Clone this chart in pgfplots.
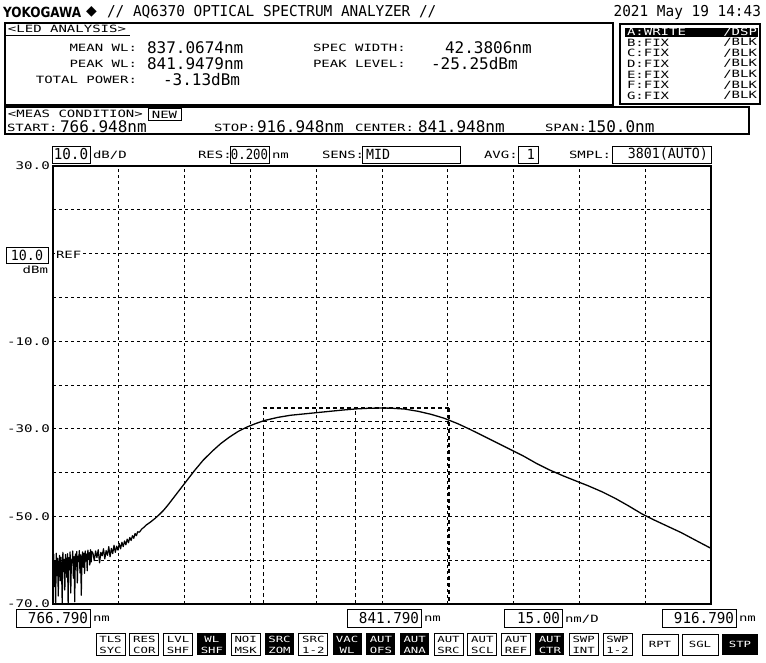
\documentclass[border=0pt]{standalone}
\usepackage{pgfplots}
\pgfplotsset{compat=1.18}
\usepackage{graphicx}
\usepackage{fontspec}
\setmainfont{DejaVu Sans Mono}
\newfontfamily\sansf{DejaVu Sans}
\newcommand\LCD[3]{\scalebox{#2}[1]{\fontsize{#1}{#1}\selectfont #3}}
\newcommand\SM[1]{\LCD{10}{1.4}{#1}}
\newcommand\BG[1]{\LCD{16}{1}{#1}}
\newcommand\BT[1]{\LCD{8.5}{1.45}{#1}}
\newcommand\btnW[3]{\draw[line width=0.8pt] (#1,633) rectangle ++(29,22);
  \node[t] at (#1+14.5,639) {\BT{#2}}; \node[t] at (#1+14.5,650) {\BT{#3}};}
\newcommand\btnB[3]{\fill (#1,633) rectangle ++(29,22);
  \node[t,white] at (#1+14.5,639) {\BT{#2}}; \node[t,white] at (#1+14.5,650) {\BT{#3}};}
\begin{document}
\begin{tikzpicture}[x=1pt,y=-1pt,t/.style={inner sep=0pt,outer sep=0pt}]
\fill[white] (0,0) rectangle (766,662);
% spectrum axis
\begin{axis}[at={(53pt,-604pt)}, anchor=south west, scale only axis,
  width=658pt, height=438pt,
  xmin=766.79, xmax=916.79, ymin=-70, ymax=30,
  xtick={781.79,796.79,811.79,826.79,841.79,856.79,871.79,886.79,901.79},
  xticklabels={},
  ytick={-70,-60,-50,-40,-30,-20,-10,0,10,20,30},
  yticklabels={\LCD{10.5}{1.35}{-70.0},,\LCD{10.5}{1.35}{-50.0},,\LCD{10.5}{1.35}{-30.0},,\LCD{10.5}{1.35}{-10.0},,,,\LCD{10.5}{1.35}{30.0}},
  grid=major, major grid style={black, line width=0.9pt, dash pattern=on 3pt off 3pt},
  tick style={draw=none}, axis line style={line width=1.7pt},
  yticklabel style={inner sep=1pt, xshift=-2pt},
  clip=true]
% noise floor
\addplot[black, line width=1.2pt, line join=round] table {
766.79 -61.5
766.94 -58.6
767.09 -66.0
767.24 -60.2
767.39 -70.0
767.54 -58.4
767.69 -63.5
767.84 -59.6
767.99 -68.2
768.14 -60.8
768.29 -58.9
768.44 -64.7
768.59 -59.3
768.74 -61.9
768.89 -70.0
769.04 -58.2
769.19 -62.6
769.34 -59.8
769.49 -66.8
769.64 -58.7
769.79 -61.0
769.94 -63.9
770.09 -58.5
770.24 -70.0
770.39 -59.4
770.54 -62.2
770.69 -58.1
770.84 -67.5
770.99 -59.9
771.14 -60.6
771.29 -57.9
771.44 -64.1
771.59 -59.2
771.74 -69.5
771.89 -58.6
772.04 -61.4
772.19 -58.0
772.34 -65.2
772.49 -59.1
772.64 -60.3
772.79 -57.8
772.94 -62.9
773.09 -58.8
773.24 -68.0
773.39 -59.5
773.54 -58.1
773.69 -61.6
773.84 -58.4
773.99 -63.0
774.14 -57.9
774.29 -60.2
774.44 -58.6
774.59 -62.4
774.74 -57.7
774.89 -59.8
775.04 -58.3
775.19 -61.1
775.34 -57.6
775.49 -60.4
775.64 -58.0
775.9 -58.4
776.2 -60.1
776.5 -57.9
776.8 -59.4
777.1 -57.6
777.4 -60.6
777.7 -58.2
778.0 -59.0
778.3 -57.4
778.6 -59.7
778.9 -57.8
779.2 -58.9
779.5 -56.9
779.8 -59.2
780.1 -57.3
780.4 -58.5
780.7 -56.6
781.0 -58.2
781.3 -56.8
781.6 -57.7
781.9 -56.2
782.2 -57.4
782.5 -55.9
782.8 -56.9
783.1 -55.6
783.4 -56.5
783.7 -55.2
784.0 -56.0
784.3 -54.8
784.6 -55.5
784.9 -54.4
785.2 -55.0
785.5 -53.9
785.8 -54.4
786.1 -53.5
786.5 -53.6
787.0 -52.9
787.5 -52.5
};
% smooth spectrum
\addplot[black, line width=1.3pt, line join=round] table {
787.5 -52.5
788.0 -52.0
789.0 -51.3
790.0 -50.5
791.0 -49.6
792.0 -48.6
793.0 -47.4
794.0 -46.1
795.0 -44.8
796.0 -43.5
797.0 -42.2
799.0 -39.6
801.0 -37.2
803.0 -35.2
805.0 -33.4
807.0 -31.9
809.0 -30.6
811.0 -29.6
813.0 -28.8
815.0 -28.1
818.0 -27.4
821.0 -26.9
824.0 -26.6
827.0 -26.3
830.0 -26.0
833.0 -25.7
836.0 -25.45
839.0 -25.3
841.9 -25.25
844.0 -25.3
847.0 -25.5
850.0 -26.0
853.0 -26.7
856.0 -27.6
859.0 -28.8
862.0 -30.2
865.0 -31.7
868.0 -33.2
871.0 -34.7
874.0 -36.2
877.0 -37.9
880.0 -39.4
883.0 -40.7
886.0 -41.9
889.0 -43.1
892.0 -44.4
895.0 -45.9
898.0 -47.6
901.0 -49.4
904.0 -50.9
907.0 -52.3
910.0 -53.7
913.0 -55.3
916.79 -57.3
};
\addplot[black, line width=1.1pt, dash pattern=on 4pt off 3pt] coordinates {(814.7,-70) (814.7,-25.25) (857.0,-25.25)};
\addplot[black, line width=1.6pt, dash pattern=on 4pt off 3pt] coordinates {(857.0,-25.25) (857.0,-70)};
\addplot[black, line width=1.1pt, dash pattern=on 4pt off 3pt] coordinates {(814.7,-28.25) (857.0,-28.25)};
\addplot[black, line width=1.1pt, dash pattern=on 4pt off 3pt] coordinates {(835.85,-70) (835.85,-25.25)};
\end{axis}
% header
\node[t,anchor=west] at (3,12) {\sansf\bfseries\fontsize{14}{14}\selectfont\scalebox{0.86}[1]{YOKOGAWA}};
\node[t,anchor=west] at (86,12) {\sansf\fontsize{14}{14}\selectfont ◆};
\node[t,anchor=west] at (107,12) {\LCD{15}{0.96}{// AQ6370 OPTICAL SPECTRUM ANALYZER //}};
\node[t,anchor=east] at (761,12) {\LCD{15}{0.96}{2021 May 19 14:43}};
% LED analysis box
\draw[line width=1.2pt] (5,23) rectangle (613,105);
\node[t,anchor=west] at (8,29) {\SM{<LED ANALYSIS>}};
\draw[line width=1pt] (5,35) -- (130,35);
\node[t,anchor=east] at (137,48) {\SM{MEAN WL:}};
\node[t,anchor=west] at (147,48) {\BG{837.0674nm}};
\node[t,anchor=east] at (137,64) {\SM{PEAK WL:}};
\node[t,anchor=west] at (147,64) {\BG{841.9479nm}};
\node[t,anchor=east] at (137,80) {\SM{TOTAL POWER:}};
\node[t,anchor=west] at (163,80) {\BG{-3.13dBm}};
\node[t,anchor=west] at (313,48) {\SM{SPEC WIDTH:}};
\node[t,anchor=west] at (445,48) {\BG{42.3806nm}};
\node[t,anchor=west] at (313,64) {\SM{PEAK LEVEL:}};
\node[t,anchor=west] at (431,64) {\BG{-25.25dBm}};
% trace box
\draw[line width=1.2pt] (620,24) rectangle (760,104);
\fill (625,28) rectangle (758,36.5);
\node[t,anchor=west,white] at (627,32) {\SM{A:WRITE}};
\node[t,anchor=east,white] at (757,32) {\SM{/DSP}};
\foreach \l [count=\i] in {B,C,D,E,F,G}{
  \node[t,anchor=west] at (627,32+10.6*\i) {\SM{\l:FIX}};
  \node[t,anchor=east] at (757,32+10.6*\i) {\SM{/BLK}};
}
% meas condition
\draw[line width=1.2pt] (5,107) rectangle (749,134);
\node[t,anchor=west] at (8,114) {\SM{<MEAS CONDITION>}};
\draw[line width=0.9pt] (148,108.5) rectangle (181,120);
\node[t] at (164.5,114.5) {\SM{NEW}};
\node[t,anchor=west] at (7,128) {\SM{START:}};
\node[t,anchor=west] at (60,127) {\BG{766.948nm}};
\node[t,anchor=west] at (214,128) {\SM{STOP:}};
\node[t,anchor=west] at (257,127) {\BG{916.948nm}};
\node[t,anchor=west] at (355,128) {\SM{CENTER:}};
\node[t,anchor=west] at (418,127) {\BG{841.948nm}};
\node[t,anchor=west] at (545,128) {\SM{SPAN:}};
\node[t,anchor=west] at (587,127) {\BG{150.0nm}};
% settings row
\draw[line width=1pt] (52,146) rectangle (90,163);
\node[t] at (71,154.5) {\LCD{15}{0.95}{10.0}};
\node[t,anchor=west] at (93,155) {\SM{dB/D}};
\node[t,anchor=west] at (198,155) {\SM{RES:}};
\draw[line width=1pt] (230,146) rectangle (269,163);
\node[t] at (249.5,154.5) {\LCD{14}{0.88}{0.200}};
\node[t,anchor=west] at (272,155.5) {\SM{nm}};
\node[t,anchor=west] at (322,155) {\SM{SENS:}};
\draw[line width=1pt] (362,146) rectangle (460,163);
\node[t,anchor=west] at (366,154.5) {\LCD{14}{0.95}{MID}};
\node[t,anchor=west] at (484,155) {\SM{AVG:}};
\draw[line width=1pt] (518,146) rectangle (538,163);
\node[t,anchor=east] at (535,154.5) {\LCD{14}{0.95}{1}};
\node[t,anchor=west] at (569,155) {\SM{SMPL:}};
\draw[line width=1pt] (612,146) rectangle (711,163);
\node[t,anchor=east] at (708,154.5) {\LCD{14}{0.95}{3801(AUTO)}};
% REF
\draw[line width=1pt] (6,247) rectangle (48,263);
\node[t] at (27,255) {\LCD{14}{0.95}{10.0}};
\node[t,anchor=west,fill=white,inner ysep=2pt,inner xsep=1pt] at (55,255) {\SM{REF}};
\node[t,anchor=east] at (48,270) {\SM{dBm}};
% bottom row
\draw[line width=1pt] (16,609) rectangle (90,627);
\node[t,anchor=east] at (88,618) {\LCD{15}{0.95}{766.790}};
\node[t,anchor=west] at (93,619) {\SM{nm}};
\draw[line width=1pt] (347,609) rectangle (421,627);
\node[t,anchor=east] at (419,618) {\LCD{15}{0.95}{841.790}};
\node[t,anchor=west] at (424,619) {\SM{nm}};
\draw[line width=1pt] (504,609) rectangle (562,627);
\node[t,anchor=east] at (560,618) {\LCD{15}{0.95}{15.00}};
\node[t,anchor=west] at (565,619) {\SM{nm/D}};
\draw[line width=1pt] (662,609) rectangle (736,627);
\node[t,anchor=east] at (734,618) {\LCD{15}{0.95}{916.790}};
\node[t,anchor=west] at (739,619) {\SM{nm}};
% buttons
\btnW{96}{TLS}{SYC}
\btnW{129.8}{RES}{COR}
\btnW{163.6}{LVL}{SHF}
\btnB{197.4}{WL}{SHF}
\btnW{231.2}{NOI}{MSK}
\btnB{265}{SRC}{ZOM}
\btnW{298.8}{SRC}{1-2}
\btnB{332.6}{VAC}{WL}
\btnB{366.4}{AUT}{OFS}
\btnB{400.2}{AUT}{ANA}
\btnW{434}{AUT}{SRC}
\btnW{467.8}{AUT}{SCL}
\btnW{501.6}{AUT}{REF}
\btnB{535.4}{AUT}{CTR}
\btnW{569.2}{SWP}{INT}
\btnW{603}{SWP}{1-2}
\draw[line width=0.8pt] (642,634) rectangle (678,655);
\node[t] at (660,644.5) {\BT{RPT}};
\draw[line width=0.8pt] (682,634) rectangle (718,655);
\node[t] at (700,644.5) {\BT{SGL}};
\fill (722,634) rectangle (758,655);
\node[t,white] at (740,644.5) {\BT{STP}};
\end{tikzpicture}
\end{document}
